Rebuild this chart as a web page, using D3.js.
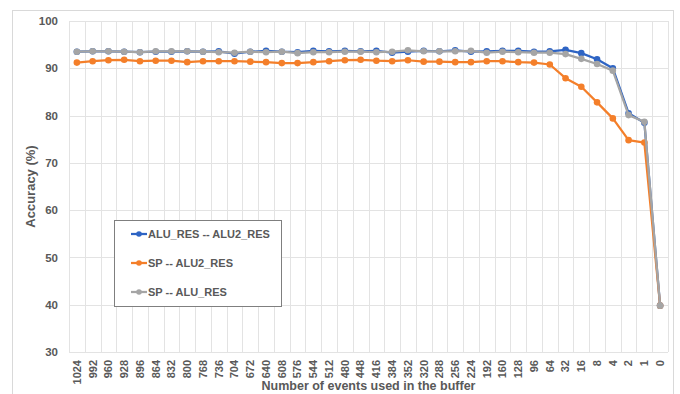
<!DOCTYPE html>
<html><head><meta charset="utf-8">
<script src="https://cdn.jsdelivr.net/npm/d3@7"></script>
<style>body{margin:0;background:#fff;}svg{display:block;font-family:"Liberation Sans",Arial,sans-serif;}</style>
</head><body>
<svg id="c" width="680" height="394"></svg>
<script>
const categories = ["1024","992","960","928","896","864","832","800","768","736","704","672","640","608","576","544","512","480","448","416","384","352","320","288","256","224","192","160","128","96","64","32","16","8","4","2","1","0"];
const aluResAlu2Res = [93.5,93.6,93.6,93.5,93.4,93.5,93.5,93.6,93.5,93.6,93.1,93.5,93.7,93.5,93.4,93.7,93.6,93.7,93.6,93.7,93.3,93.5,93.7,93.6,93.8,93.5,93.6,93.7,93.7,93.5,93.6,93.9,93.2,91.9,90.0,80.5,78.5,39.8];
const spAlu2Res = [91.2,91.5,91.7,91.8,91.5,91.6,91.6,91.3,91.5,91.5,91.5,91.4,91.3,91.1,91.1,91.3,91.5,91.7,91.8,91.6,91.5,91.7,91.4,91.4,91.3,91.3,91.5,91.5,91.3,91.2,90.8,87.9,86.1,82.8,79.4,74.8,74.3,39.8];
const spAluRes = [93.5,93.6,93.6,93.5,93.4,93.6,93.6,93.6,93.5,93.4,93.3,93.5,93.4,93.5,93.2,93.4,93.4,93.5,93.5,93.4,93.5,93.8,93.6,93.6,93.6,93.7,93.3,93.5,93.4,93.3,93.3,93.0,92.0,90.9,89.5,80.1,78.7,39.8];
const seriesNames = ["ALU_RES -- ALU2_RES","SP -- ALU2_RES","SP -- ALU_RES"];
const seriesColors = ["#2E64C4","#F47F2A","#A5A5A5"];
const yTicks = [30,40,50,60,70,80,90,100];
const xTitle = "Number of events used in the buffer";
const yTitle = "Accuracy (%)";

const svg = d3.select("#c");
const L = 69, R = 668, T = 21, B = 352;
const x = d3.scaleBand().domain(categories).range([L, R]).padding(0);
const y = d3.scaleLinear().domain([30, 100]).range([B, T]);

// outer chart border
svg.append("rect").attr("x", 12.5).attr("y", 10.5).attr("width", 661).attr("height", 400)
  .attr("fill", "#fff").attr("stroke", "#d9d9d9");

// gridlines
const g = svg.append("g");
g.selectAll("line.h").data(yTicks).join("line")
  .attr("x1", L).attr("x2", R).attr("y1", d => Math.round(y(d)) + 0.5).attr("y2", d => Math.round(y(d)) + 0.5)
  .attr("stroke", "#e3e3e3").attr("stroke-width", 1);
const vb = categories.map(c => x(c)).concat([R]);
g.selectAll("line.v").data(vb).join("line")
  .attr("x1", d => Math.round(d) + 0.5).attr("x2", d => Math.round(d) + 0.5).attr("y1", T).attr("y2", B)
  .attr("stroke", "#e3e3e3").attr("stroke-width", 1);

// y axis labels
const yAxis = d3.axisLeft(y).tickValues(yTicks).tickSize(0).tickPadding(11);
const ya = svg.append("g").attr("transform", `translate(${L},0)`).call(yAxis);
ya.select(".domain").remove();
ya.selectAll("text").attr("fill", "#595959").attr("font-size", 11.5).attr("font-weight", "bold").attr("font-family", "Liberation Sans, Arial, sans-serif");

// x axis labels
const xAxis = d3.axisBottom(x).tickSize(0).tickPadding(0);
const xa = svg.append("g").attr("transform", `translate(0,${B})`).call(xAxis);
xa.select(".domain").remove();
xa.selectAll("text").attr("fill", "#595959").attr("font-size", 11).attr("font-weight", "bold")
  .attr("font-family", "Liberation Sans, Arial, sans-serif")
  .attr("transform", "rotate(-90)").attr("text-anchor", "end").attr("dy", "0.35em").attr("x", -8).attr("y", 0);

// titles
svg.append("text").attr("x", (L + R) / 2).attr("y", 390).attr("text-anchor", "middle")
  .attr("fill", "#595959").attr("font-size", 12.5).attr("font-weight", "bold").text(xTitle);
svg.append("text").attr("transform", `translate(35,${(T + B) / 2}) rotate(-90)`).attr("text-anchor", "middle")
  .attr("fill", "#595959").attr("font-size", 13).attr("font-weight", "bold").text(yTitle);

// series
const allSeries = [aluResAlu2Res, spAlu2Res, spAluRes];
const line = d3.line().x((d, i) => x(categories[i]) + x.bandwidth() / 2).y(d => y(d));
allSeries.forEach((vals, k) => {
  const sg = svg.append("g");
  sg.append("path").datum(vals).attr("d", line).attr("fill", "none")
    .attr("stroke", seriesColors[k]).attr("stroke-width", 2.25).attr("stroke-linejoin", "round");
  sg.selectAll("circle").data(vals).join("circle")
    .attr("cx", (d, i) => x(categories[i]) + x.bandwidth() / 2).attr("cy", d => y(d)).attr("r", 3.3)
    .attr("fill", seriesColors[k]);
});

// legend
const lg = svg.append("g");
lg.append("rect").attr("x", 114.5).attr("y", 220.5).attr("width", 167).attr("height", 86)
  .attr("fill", "#fff").attr("stroke", "#7f7f7f");
const ly = [234, 263, 292];
seriesNames.forEach((n, k) => {
  lg.append("line").attr("x1", 131).attr("x2", 147).attr("y1", ly[k]).attr("y2", ly[k])
    .attr("stroke", seriesColors[k]).attr("stroke-width", 2.25);
  lg.append("circle").attr("cx", 139).attr("cy", ly[k]).attr("r", 2.8).attr("fill", seriesColors[k]);
  lg.append("text").attr("x", 148).attr("y", ly[k]).attr("dy", "0.35em").attr("fill", "#595959")
    .attr("font-size", 11).attr("font-weight", "bold").text(n);
});
</script>
</body></html>
